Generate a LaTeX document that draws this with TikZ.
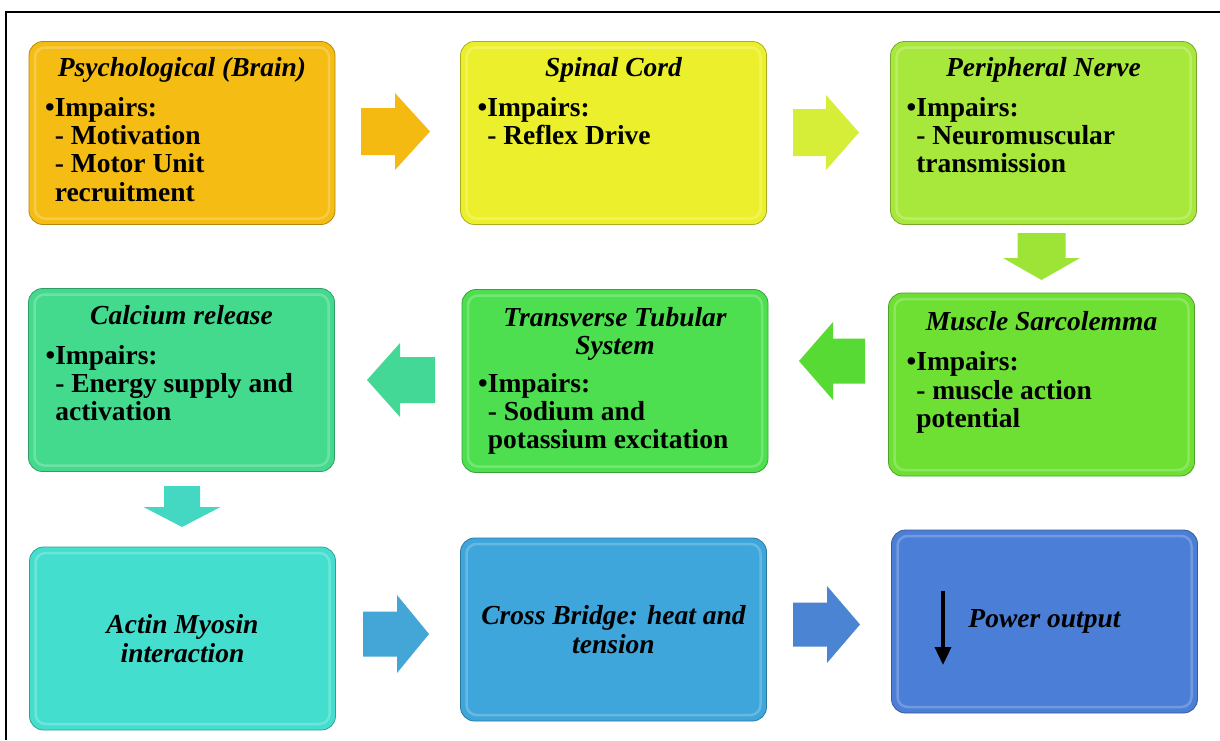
\documentclass[tikz,border=0pt]{standalone}
\usepackage{fontspec}
\setmainfont{Liberation Serif}
\usetikzlibrary{calc,arrows.meta}
\definecolor{bxA}{HTML}{F5BD14}
\definecolor{bxB}{HTML}{ECF02C}
\definecolor{bxC}{HTML}{A8E83C}
\definecolor{bxD}{HTML}{6EE034}
\definecolor{bxE}{HTML}{4EDF50}
\definecolor{bxF}{HTML}{44DA8E}
\definecolor{bxG}{HTML}{44DECE}
\definecolor{bxH}{HTML}{3EA6DA}
\definecolor{bxI}{HTML}{4B7ED6}
\definecolor{arA}{HTML}{F5BA12}
\definecolor{arB}{HTML}{D6EE38}
\definecolor{arC}{HTML}{9EE436}
\definecolor{arD}{HTML}{58DA34}
\definecolor{arE}{HTML}{44D896}
\definecolor{arF}{HTML}{44D8C2}
\definecolor{arG}{HTML}{44A6D6}
\definecolor{arH}{HTML}{4A84D2}
\tikzset{
  box/.style={rectangle, rounded corners=14pt, minimum width=306pt, minimum height=183pt,
    inner sep=0pt, fill=#1, draw=#1!72!black, line width=0.8pt,
    path picture={\draw[white, opacity=0.22, line width=2.5pt, rounded corners=10pt]
      ([shift={(6pt,-6pt)}]path picture bounding box.north west) rectangle
      ([shift={(-6pt,6pt)}]path picture bounding box.south east);}},
  ttl/.style={font=\fontsize{27.5}{28.5}\selectfont\bfseries\itshape, inner sep=0pt, anchor=base},
  ttlm/.style={font=\fontsize{27.5}{28.5}\selectfont\bfseries\itshape, inner sep=0pt, align=center},
  bdy/.style={font=\fontsize{27.5}{28.3}\selectfont\bfseries, inner sep=0pt, anchor=north west, align=left},
  pics/barrow/.style n args={5}{code={%
    \fill[#5] ({-#1/2},{-#3/2}) -- ({#1/2-#4},{-#3/2}) -- ({#1/2-#4},{-#2/2}) -- ({#1/2},0)
      -- ({#1/2-#4},{#2/2}) -- ({#1/2-#4},{#3/2}) -- ({-#1/2},{#3/2}) -- cycle;}}
}
\begin{document}
\begin{tikzpicture}[x=1pt,y=-1pt]
\useasboundingbox (0,0) rectangle (1220,740);
\fill[white] (0,0) rectangle (1220,740);
\draw[line width=1.6pt] (6,740) -- (6,12) -- (1220,12);

% boxes
\node[box=bxA] (b1) at (182,133) {};
\node[box=bxB] (b2) at (613.5,133) {};
\node[box=bxC] (b3) at (1043.5,133) {};
\node[box=bxD] (b4) at (1041.5,384.5) {};
\node[box=bxE] (b5) at (615,381) {};
\node[box=bxF] (b6) at (181.5,380) {};
\node[box=bxG] (b7) at (182.5,638.5) {};
\node[box=bxH] (b8) at (613.5,629.5) {};
\node[box=bxI] (b9) at (1044.5,621.5) {};

% texts, row 1
\node[ttl] (t1) at ($(b1.north)+(0,35)$) {Psychological (Brain)};
\node[bdy] (d1) at ($(b1.north west)+(26,56)$) {\llap{•}Impairs:\\- Motivation\\- Motor Unit\\recruitment};
\node[ttl] (t2) at ($(b2.north)+(0,35)$) {Spinal Cord};
\node[bdy] (d2) at ($(b2.north west)+(27,56)$) {\llap{•}Impairs:\\- Reflex Drive};
\node[ttl] (t3) at ($(b3.north)+(0,35)$) {Peripheral Nerve};
\node[bdy] (d3) at ($(b3.north west)+(26,56)$) {\llap{•}Impairs:\\- Neuromuscular\\transmission};

% row 2
\node[ttl] (t4) at ($(b4.north)+(0,38)$) {Muscle Sarcolemma};
\node[bdy] (d4) at ($(b4.north west)+(28,59)$) {\llap{•}Impairs:\\- muscle action\\potential};
\node[ttlm, anchor=north] (t5) at ($(b5.north)+(0,18)$) {Transverse Tubular\\System};
\node[bdy] (d5) at ($(b5.north west)+(26,84)$) {\llap{•}Impairs:\\- Sodium and\\potassium excitation};
\node[ttl] (t6) at ($(b6.north)+(0,36)$) {Calcium release};
\node[bdy] (d6) at ($(b6.north west)+(27,57)$) {\llap{•}Impairs:\\- Energy supply and\\activation};

% row 3
\node[ttlm] (t7) at (b7.center) {Actin Myosin\\interaction};
\node[ttlm] (t8) at (b8.center) {Cross Bridge: heat and\\tension};
\node[ttlm] (t9) at (b9.center) {Power output};
\coordinate (pa) at (943,591);
\coordinate (pb) at (943,665);
\draw[line width=3.5pt, -{Triangle[width=16pt,length=18pt]}] (pa) -- (pb);

% block arrows
\pic at (395.5,131.5) {barrow={69}{77}{47}{35}{arA}};
\pic at (826,132.5) {barrow={66}{75}{47}{33}{arB}};
\pic[rotate=-90] at (1041.5,256.5) {barrow={47}{77}{48}{22}{arC}};
\pic[rotate=180] at (832,361) {barrow={66}{78}{45}{34}{arD}};
\pic[rotate=180] at (401,380) {barrow={68}{74}{46}{33}{arE}};
\pic[rotate=-90] at (182,506.5) {barrow={41}{77}{36}{20}{arF}};
\pic at (396,634) {barrow={66}{78}{45}{32}{arG}};
\pic at (826.5,624.5) {barrow={67}{77}{44}{33}{arH}};
\end{tikzpicture}
\end{document}
